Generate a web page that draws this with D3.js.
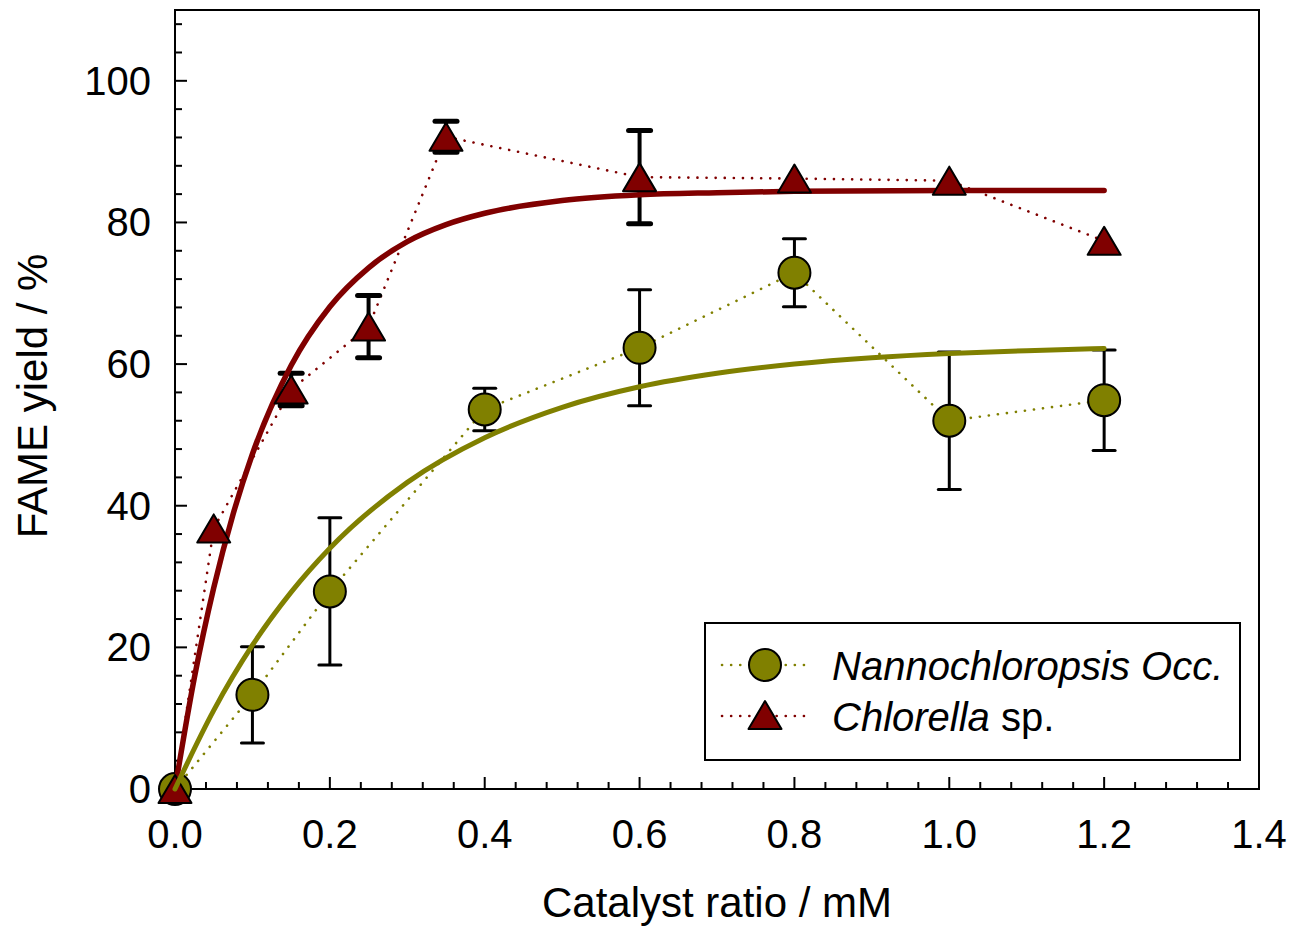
<!DOCTYPE html>
<html>
<head>
<meta charset="utf-8">
<script src="https://cdn.jsdelivr.net/npm/d3@7"></script>
<style>
    html, body { margin: 0; padding: 0; background: #fff; }
    svg { display: block; font-family: "Liberation Sans", Arial, sans-serif; }
    .axis-line { stroke: #000; stroke-width: 2; fill: none; }
    .tick-label { font-size: 40px; fill: #000; }
    .title { font-size: 42px; fill: #000; }
</style>
</head>
<body>
<script>
// measured points
const nannoX = [0, 0.1, 0.2, 0.4, 0.6, 0.8, 1.0, 1.2];
const nannoY = [0, 13.3, 27.9, 53.6, 62.3, 72.9, 52.0, 54.9];
const nannoErr = [0, 6.8, 10.4, 3.0, 8.2, 4.8, 9.7, 7.1];

const chlorX = [0, 0.05, 0.15, 0.25, 0.35, 0.6, 0.8, 1.0, 1.2];
const chlorY = [0, 36.8, 56.4, 65.3, 92.1, 86.4, 86.2, 85.9, 77.4];
const chlorErr = [0, 0, 2.3, 4.4, 2.2, 6.6, 0, 0, 0];

// fitted curves
const nannoFitX = [0, 0.05, 0.1, 0.15, 0.2, 0.3, 0.4, 0.5, 0.6, 0.7, 0.8, 0.9, 1.0, 1.1, 1.2];
const nannoFitY = [0, 11.1, 20.3, 27.8, 34.0, 43.3, 49.6, 53.9, 56.8, 58.7, 60.0, 60.9, 61.5, 61.9, 62.2];
const chlorFitX = [0, 0.025, 0.05, 0.075, 0.1, 0.15, 0.2, 0.25, 0.3, 0.35, 0.4, 0.5, 0.6, 0.7, 0.8, 1.0, 1.2];
const chlorFitY = [0, 15.7, 28.4, 38.8, 47.3, 59.8, 68.1, 73.6, 77.3, 79.7, 81.3, 83.1, 83.9, 84.2, 84.4, 84.5, 84.5];

const xTicks = [0, 0.2, 0.4, 0.6, 0.8, 1.0, 1.2, 1.4];
const yTicks = [0, 20, 40, 60, 80, 100];

const legendNames = ["Nannochloropsis Occ.", "Chlorella"];

const olive = "#808000", maroon = "#800000";

const W = 1292, H = 929;
const margin = { left: 175, right: 33, top: 10, bottom: 140 };

const svg = d3.select("body").append("svg")
    .attr("width", W).attr("height", H);

const x = d3.scaleLinear().domain([0, 1.4]).range([margin.left, W - margin.right]);
const y = d3.scaleLinear().domain([0, 110]).range([H - margin.bottom, margin.top]);

const x0 = x(0), x1 = x(1.4), y0 = y(0), y1 = y(110);

// frame
svg.append("rect").attr("class", "axis-line")
    .attr("x", x0).attr("y", y1).attr("width", x1 - x0).attr("height", y0 - y1);

// ticks pointing inward
const xMinor = d3.range(0, 1.4001, 0.04);
svg.append("g").selectAll("line").data(xMinor).join("line")
    .attr("x1", d => x(d)).attr("x2", d => x(d))
    .attr("y1", y0)
    .attr("y2", (d, i) => y0 - (i % 5 === 0 ? 12 : 7))
    .attr("stroke", "#000").attr("stroke-width", 2);

const yMinor = d3.range(0, 110.001, 4);
svg.append("g").selectAll("line").data(yMinor).join("line")
    .attr("y1", d => y(d)).attr("y2", d => y(d))
    .attr("x1", x0)
    .attr("x2", (d, i) => x0 + (i % 5 === 0 ? 12 : 7))
    .attr("stroke", "#000").attr("stroke-width", 2);

svg.append("g").selectAll("text").data(xTicks).join("text")
    .attr("class", "tick-label")
    .attr("x", d => x(d)).attr("y", y0 + 59)
    .attr("text-anchor", "middle")
    .text(d => d.toFixed(1));

svg.append("g").selectAll("text").data(yTicks).join("text")
    .attr("class", "tick-label")
    .attr("x", x0 - 24).attr("y", d => y(d) + 14)
    .attr("text-anchor", "end")
    .text(d => d);

svg.append("text").attr("class", "title")
    .attr("x", (x0 + x1) / 2).attr("y", H - 12)
    .attr("text-anchor", "middle")
    .text("Catalyst ratio / mM");

svg.append("text").attr("class", "title")
    .attr("transform", `translate(47, ${y(55.5)}) rotate(-90)`)
    .attr("text-anchor", "middle")
    .text("FAME yield / %");

// data
const nanno = nannoX.map((v, i) => ({ x: v, y: nannoY[i], e: nannoErr[i] }));
const chlor = chlorX.map((v, i) => ({ x: v, y: chlorY[i], e: chlorErr[i] }));
const nannoFit = nannoFitX.map((v, i) => [v, nannoFitY[i]]);
const chlorFit = chlorFitX.map((v, i) => [v, chlorFitY[i]]);

const line = d3.line().x(d => x(d.x)).y(d => y(d.y));
const fitLine = d3.line().x(d => x(d[0])).y(d => y(d[1])).curve(d3.curveMonotoneX);

function dotted(data, color) {
    svg.append("path").datum(data)
        .attr("d", line)
        .attr("fill", "none").attr("stroke", color)
        .attr("stroke-width", 2.6).attr("stroke-linecap", "round")
        .attr("stroke-dasharray", "0.1 9");
}
dotted(nanno, olive);
dotted(chlor, maroon);

function errorBars(data, sw, capW) {
    const g = svg.append("g").attr("stroke", "#000");
    const d = data.filter(p => p.e > 0);
    g.selectAll(".v").data(d).join("line")
        .attr("stroke-width", sw)
        .attr("x1", p => x(p.x)).attr("x2", p => x(p.x))
        .attr("y1", p => y(p.y - p.e)).attr("y2", p => y(p.y + p.e));
    g.selectAll(".c").data(d.flatMap(p => [p.y - p.e, p.y + p.e].map(v => ({ x: p.x, v }))))
        .join("line")
        .attr("stroke-width", capW)
        .attr("stroke-linecap", "round")
        .attr("x1", p => x(p.x) - 11).attr("x2", p => x(p.x) + 11)
        .attr("y1", p => y(p.v)).attr("y2", p => y(p.v));
}
errorBars(nanno, 3, 3);
errorBars(chlor, 4, 5);

function circles(data) {
    svg.append("g").selectAll("circle").data(data).join("circle")
        .attr("cx", p => x(p.x)).attr("cy", p => y(p.y)).attr("r", 16)
        .attr("fill", olive).attr("stroke", "#000").attr("stroke-width", 2);
}
function triPath(cx, cy, w, h) {
    return `M${cx - w / 2},${cy + h / 2}L${cx},${cy - h / 2}L${cx + w / 2},${cy + h / 2}Z`;
}
function triangles(data) {
    svg.append("g").selectAll("path").data(data).join("path")
        .attr("d", p => triPath(x(p.x), y(p.y), 33, 28))
        .attr("fill", maroon).attr("stroke", "#000").attr("stroke-width", 2)
        .attr("stroke-linejoin", "round");
}

circles(nanno);
svg.append("path").datum(chlorFit).attr("d", fitLine)
    .attr("fill", "none").attr("stroke", maroon).attr("stroke-width", 5.5)
    .attr("stroke-linecap", "round");
triangles(chlor);
svg.append("path").datum(nannoFit).attr("d", fitLine)
    .attr("fill", "none").attr("stroke", olive).attr("stroke-width", 5)
    .attr("stroke-linecap", "round");

// legend
const lg = svg.append("g");
lg.append("rect").attr("x", 705).attr("y", 623).attr("width", 535).attr("height", 137)
    .attr("fill", "#fff").attr("stroke", "#000").attr("stroke-width", 2);
const rows = [
    { color: olive, yy: 665, shape: "circle" },
    { color: maroon, yy: 716, shape: "tri" }
];
rows.forEach(r => {
    lg.append("line").attr("x1", 722).attr("x2", 808).attr("y1", r.yy).attr("y2", r.yy)
        .attr("stroke", r.color).attr("stroke-width", 2.6).attr("stroke-linecap", "round")
        .attr("stroke-dasharray", "0.1 9");
    if (r.shape === "circle") {
        lg.append("circle").attr("cx", 765).attr("cy", r.yy).attr("r", 16)
            .attr("fill", olive).attr("stroke", "#000").attr("stroke-width", 2);
    } else {
        lg.append("path").attr("d", triPath(765, r.yy - 1, 33, 28))
            .attr("fill", maroon).attr("stroke", "#000").attr("stroke-width", 2)
            .attr("stroke-linejoin", "round");
    }
});
lg.append("text").attr("class", "tick-label").attr("x", 832).attr("y", 680)
    .style("font-style", "italic").text(legendNames[0]);
const t2 = lg.append("text").attr("class", "tick-label").attr("x", 832).attr("y", 731);
t2.append("tspan").style("font-style", "italic").text(legendNames[1]);
t2.append("tspan").text(" sp.");
</script>
</body>
</html>
